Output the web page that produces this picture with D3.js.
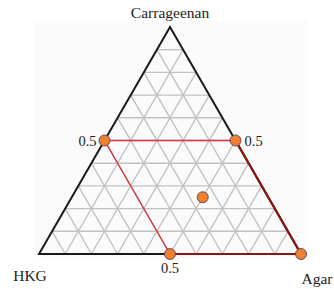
<!DOCTYPE html>
<html>
<head>
<meta charset="utf-8">
<script src="https://cdn.jsdelivr.net/npm/d3@7"></script>
<style>
  html, body { margin:0; padding:0; background:#fff; }
  svg { display:block; }
</style>
</head>
<body>
<div id="chart"></div>
<script>
// axis names, at the three corners
const vertexNames = ["HKG", "Agar", "Carrageenan"];
// grid levels (fraction of each component)
const gridLevels = [0.1, 0.2, 0.3, 0.4, 0.5, 0.6, 0.7, 0.8, 0.9];
// marked compositions [HKG, Agar, Carrageenan]
const hkg  = [0.5, 0.0, 0.5, 0.0, 0.25];
const agar = [0.0, 0.5, 0.5, 1.0, 0.5];
const carr = [0.5, 0.5, 0.0, 0.0, 0.25];
// feasible region outline (indices into the points above)
const regionLight = [[0, 1], [0, 2]];
const regionDark  = [[1, 3], [2, 3]];
const tickLabels = ["0.5", "0.5", "0.5"];

const width = 334, height = 289;
const colors = {
  frame: "#fbfbfb",
  grid: "#c2c2c2",
  edge: "#1a1a1a",
  red: "#d9363e",
  darkRed: "#8c1414",
  dot: "#f0802e",
  dotStroke: "#3f3360",
  text: "#222"
};

const x = d3.scaleLinear().domain([0, 1]).range([39, 301]);
const y = d3.scaleLinear().domain([0, 1]).range([254, 27]);
// ternary -> screen
const px = (a, c) => x(a + c / 2);
const py = c => y(c);
const P = (h, a, c) => [px(a, c), py(c)];

const svg = d3.select("#chart").append("svg")
  .attr("width", width).attr("height", height)
  .style("font-family", "'Liberation Serif', 'DejaVu Serif', serif");

svg.append("rect")
  .attr("x", 33).attr("y", 21).attr("width", 275).attr("height", 236)
  .attr("fill", colors.frame);

const line = d3.line();
const g = svg.append("g");

// grid: constant carrageenan, constant agar, constant HKG
gridLevels.forEach(t => {
  const segs = [
    [P(1 - t, 0, t), P(0, 1 - t, t)],
    [P(1 - t, t, 0), P(0, t, 1 - t)],
    [P(t, 1 - t, 0), P(t, 0, 1 - t)]
  ];
  segs.forEach(s => g.append("path").attr("d", line(s))
    .attr("stroke", colors.grid).attr("stroke-width", 1.4).attr("fill", "none"));
});

// outer triangle
const A = P(1, 0, 0), B = P(0, 1, 0), C = P(0, 0, 1);
g.append("path").attr("d", line([B, C, A, B]))
  .attr("stroke", colors.edge).attr("stroke-width", 2).attr("fill", "none")
  .attr("stroke-linejoin", "miter");

const pts = hkg.map((h, i) => P(h, agar[i], carr[i]));

regionLight.forEach(([i, j]) => g.append("path").attr("d", line([pts[i], pts[j]]))
  .attr("stroke", colors.red).attr("stroke-width", 1.5).attr("fill", "none"));
regionDark.forEach(([i, j]) => g.append("path").attr("d", line([pts[i], pts[j]]))
  .attr("stroke", colors.darkRed).attr("stroke-width", 2.2).attr("fill", "none"));

g.selectAll("circle").data(pts).join("circle")
  .attr("cx", d => d[0]).attr("cy", d => d[1]).attr("r", 5.5)
  .attr("fill", colors.dot).attr("stroke", colors.dotStroke).attr("stroke-width", 0.8);

// corner labels
svg.append("text").attr("x", C[0]).attr("y", 18).attr("text-anchor", "middle")
  .attr("font-size", 15.5).attr("fill", colors.text).text(vertexNames[2]);
svg.append("text").attr("x", 30).attr("y", 281).attr("text-anchor", "middle")
  .attr("font-size", 15.5).attr("fill", colors.text).text(vertexNames[0]);
svg.append("text").attr("x", 317).attr("y", 284).attr("text-anchor", "middle")
  .attr("font-size", 15.5).attr("fill", colors.text).text(vertexNames[1]);

// 0.5 tick labels
svg.append("text").attr("x", pts[0][0] - 8).attr("y", pts[0][1] + 5).attr("text-anchor", "end")
  .attr("font-size", 14.5).attr("fill", colors.text).text(tickLabels[0]);
svg.append("text").attr("x", pts[1][0] + 9).attr("y", pts[1][1] + 5).attr("text-anchor", "start")
  .attr("font-size", 14.5).attr("fill", colors.text).text(tickLabels[1]);
svg.append("text").attr("x", pts[2][0]).attr("y", pts[2][1] + 19).attr("text-anchor", "middle")
  .attr("font-size", 14.5).attr("fill", colors.text).text(tickLabels[2]);
</script>
</body>
</html>
